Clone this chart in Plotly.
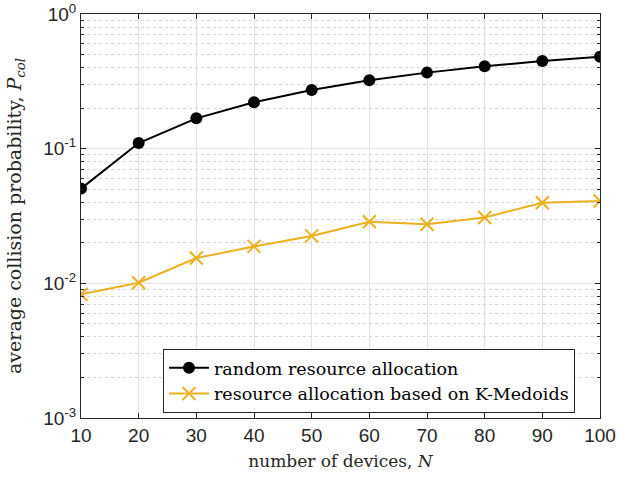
import plotly.graph_objects as go

N = [10, 20, 30, 40, 50, 60, 70, 80, 90, 100]
p_random = [0.0505, 0.110, 0.168, 0.221, 0.273, 0.322, 0.367, 0.409, 0.448, 0.482]
p_kmedoids = [0.0083, 0.0101, 0.0154, 0.0188, 0.0225, 0.0287, 0.0275, 0.0308, 0.0397, 0.0409]
ytick_vals = [1e-3, 1e-2, 1e-1, 1e0]
ytick_text = ["10<sup>-3</sup>", "10<sup>-2</sup>", "10<sup>-1</sup>", "10<sup>0</sup>"]
xtick_vals = [10, 20, 30, 40, 50, 60, 70, 80, 90, 100]

serif = "DejaVu Serif, serif"
sans = "Liberation Sans, Arial, sans-serif"

fig = go.Figure()
fig.add_trace(go.Scatter(
    x=N, y=p_random, mode="lines+markers",
    name="random resource allocation",
    line=dict(color="black", width=2),
    marker=dict(symbol="circle", size=12, color="black"),
))
fig.add_trace(go.Scatter(
    x=N, y=p_kmedoids, mode="lines+markers",
    name="resource allocation based on K-Medoids",
    line=dict(color="#EDB120", width=2),
    marker=dict(symbol="x-thin", size=13, color="#EDB120",
                line=dict(color="#EDB120", width=2)),
))

fig.update_layout(
    width=618, height=481,
    margin=dict(l=81, r=18, t=14, b=63),
    paper_bgcolor="white", plot_bgcolor="white",
    showlegend=True,
    legend=dict(
        x=0.158, y=0.171, xanchor="left", yanchor="top",
        bgcolor="white", bordercolor="#262626", borderwidth=1,
        font=dict(family=serif, size=17.5, color="black"),
        tracegroupgap=0, itemwidth=40,
    ),
)
fig.update_xaxes(
    range=[10, 100], tickvals=xtick_vals, automargin=False,
    ticks="inside", ticklen=5, tickcolor="#262626",
    showline=True, linecolor="#262626", linewidth=1, mirror="ticks",
    showgrid=True, gridcolor="#e3e3e3", gridwidth=1,
    zeroline=False,
    tickfont=dict(family=sans, size=19, color="#262626"),
    title=dict(text="number of devices, <i>N</i>",
               font=dict(family=serif, size=17, color="#262626"), standoff=10),
)
fig.update_yaxes(
    type="log", range=[-3, 0], tickvals=ytick_vals, ticktext=ytick_text,
    automargin=False,
    ticks="inside", ticklen=5, tickcolor="#262626",
    showline=True, linecolor="#262626", linewidth=1, mirror="ticks",
    showgrid=True, gridcolor="#e3e3e3", gridwidth=1,
    zeroline=False,
    minor=dict(ticks="inside", ticklen=3, tickcolor="#262626",
               showgrid=True, gridcolor="#d6d6d6", griddash="dot", dtick="D1"),
    tickfont=dict(family=sans, size=19, color="#262626"),
    title=dict(text="average collision probability, <i>P</i><sub><i>col</i></sub>",
               font=dict(family=serif, size=19, color="#262626"), standoff=16),
)

fig.write_html("out.html")
